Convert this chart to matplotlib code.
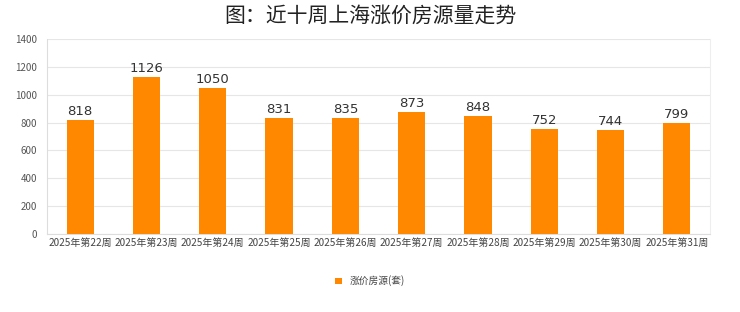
import matplotlib
matplotlib.use("Agg")
import matplotlib.pyplot as plt

plt.rcParams['font.family'] = ['Noto Sans CJK SC', 'DejaVu Sans']

categories = ["2025年第22周", "2025年第23周", "2025年第24周", "2025年第25周", "2025年第26周",
              "2025年第27周", "2025年第28周", "2025年第29周", "2025年第30周", "2025年第31周"]
values = [818, 1126, 1050, 831, 835, 873, 848, 752, 744, 799]
yticks = [0, 200, 400, 600, 800, 1000, 1200, 1400]
series_name = "涨价房源(套)"
title = "图：近十周上海涨价房源量走势"

fig = plt.figure(figsize=(7.4, 3.12), dpi=100)
ax = fig.add_axes([47/740, 1-234/312, (710-47)/740, (234-39)/312])

x = list(range(len(categories)))
bars = ax.bar(x, values, width=0.41, color='#ff8800', label=series_name, zorder=3)
for xi, v in zip(x, values):
    ax.text(xi, v + 15, str(v), ha='center', va='bottom', fontsize=9.5, color='#333333', family='DejaVu Sans')

ax.set_xlim(-0.5, len(categories) - 0.5)
ax.set_ylim(0, 1400)
ax.set_yticks(yticks)
ax.set_yticklabels([str(t) for t in yticks], fontsize=7, color='#555555')
ax.set_xticks(x)
ax.set_xticklabels(categories, fontsize=7.2, color='#444444')
ax.tick_params(axis='y', length=0, pad=7)
ax.tick_params(axis='x', length=0, pad=3)
ax.grid(axis='y', color='#e6e6e6', linewidth=0.8, zorder=0)
ax.spines['top'].set_visible(False)
ax.spines['left'].set_color('#dddddd')
ax.spines['right'].set_color('#eeeeee')
ax.spines['bottom'].set_color('#dddddd')

fig.text(0.5, 1-16/312, title, ha='center', va='center', fontsize=15, fontweight='medium', color='#222222')

fig.legend(handles=[bars], labels=[series_name], loc='center', bbox_to_anchor=(0.5, 1-281/312),
           frameon=False, fontsize=7, labelcolor='#444444', handlelength=0.7, handleheight=0.7, handletextpad=0.8)

fig.savefig("out.png", dpi=100, facecolor='white')
